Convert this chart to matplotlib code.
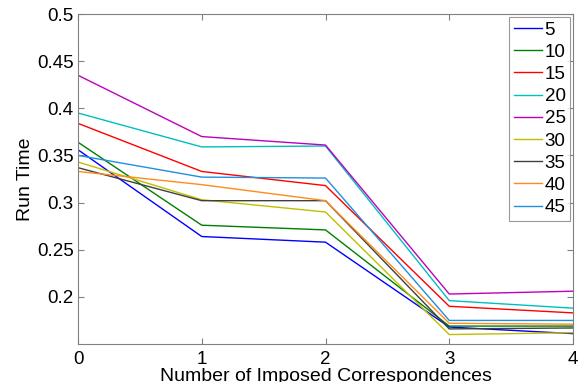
import matplotlib
matplotlib.use('Agg')
import matplotlib.pyplot as plt

plt.rcParams.update({
    'font.family': ['Liberation Sans', 'DejaVu Sans'],
    'font.size': 10,
})

x = [0, 1, 2, 3, 4]
labels = ['5', '10', '15', '20', '25', '30', '35', '40', '45']
colors = ['#0000ff', '#007f00', '#ff0000', '#00bfbf', '#bf00bf',
          '#bfbf00', '#3f3f3f', '#ff8c1a', '#1f8fdf']

run_5  = [0.356, 0.264, 0.258, 0.168, 0.161]
run_10 = [0.364, 0.276, 0.271, 0.169, 0.169]
run_15 = [0.384, 0.333, 0.318, 0.190, 0.183]
run_20 = [0.395, 0.359, 0.360, 0.196, 0.188]
run_25 = [0.435, 0.370, 0.361, 0.203, 0.206]
run_30 = [0.343, 0.303, 0.290, 0.160, 0.162]
run_35 = [0.337, 0.302, 0.302, 0.166, 0.167]
run_40 = [0.333, 0.319, 0.302, 0.172, 0.171]
run_45 = [0.350, 0.327, 0.326, 0.175, 0.175]
series = [run_5, run_10, run_15, run_20, run_25, run_30, run_35, run_40, run_45]

fig = plt.figure(figsize=(5.87, 3.82), dpi=100)
ax = fig.add_axes([78 / 587, (382 - 344) / 382, (573 - 78) / 587, (344 - 14) / 382])

for ys, c, lbl in zip(series, colors, labels):
    ax.plot(x, ys, color=c, lw=1.0, label=lbl)

ax.set_xlim(0, 4)
ax.set_ylim(0.15, 0.5)
ax.set_xticks(x)
ax.set_yticks([0.2, 0.25, 0.3, 0.35, 0.4, 0.45, 0.5])
ax.set_yticklabels(['0.2', '0.25', '0.3', '0.35', '0.4', '0.45', '0.5'])
ax.tick_params(direction='in', top=True, right=True, labelsize=13.5, length=4,
               color='#808080')
ax.tick_params(axis='y', pad=3)
ax.tick_params(axis='x', pad=5)
for s in ax.spines.values():
    s.set_color('#808080')

ax.set_xlabel('Number of Imposed Correspondences', fontsize=14, labelpad=0)
ax.set_ylabel('Run Time', fontsize=14, labelpad=2)

leg = ax.legend(loc='upper right', fontsize=13.5, frameon=True, fancybox=False,
                handlelength=1.5, handletextpad=0.15, labelspacing=0.27,
                borderpad=0.25, borderaxespad=0.15)
leg.get_frame().set_edgecolor('#808080')
leg.get_frame().set_linewidth(0.8)

fig.savefig('out.png', dpi=100)
